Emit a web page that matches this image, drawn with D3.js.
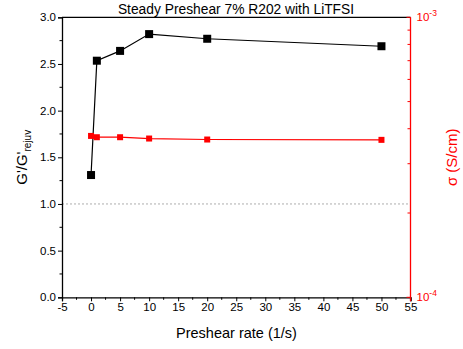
<!DOCTYPE html>
<html>
<head>
<meta charset="utf-8">
<script src="https://cdn.jsdelivr.net/npm/d3@7"></script>
<style>
  html, body { margin: 0; padding: 0; background: #fff; }
  svg { display: block; font-family: "Liberation Sans", Arial, sans-serif; }
</style>
</head>
<body>
<svg id="chart" width="463" height="349"></svg>
<script>
// Preshear rates (1/s)
const rates = [0, 1, 5, 10, 20, 50];
// Storage modulus ratio G'/G'rejuv
const modulusRatio = [1.31, 2.535, 2.64, 2.82, 2.77, 2.69];
// Ionic conductivity (S/cm)
const conductivity = [3.77e-4, 3.73e-4, 3.73e-4, 3.69e-4, 3.66e-4, 3.65e-4];
// Axis ticks
const xTicks = [-5, 0, 5, 10, 15, 20, 25, 30, 35, 40, 45, 50, 55];
const yTicks = [0, 0.5, 1.0, 1.5, 2.0, 2.5, 3.0];
const titleText = "Steady Preshear 7% R202 with LiTFSI";

const svg = d3.select("#chart");
const pLeft = 62, pRight = 410.5, pTop = 17.3, pBottom = 297.3;
const red = "#ff0000";

const x = d3.scaleLinear().domain([-5, 55]).range([pLeft, pRight]);
const y = d3.scaleLinear().domain([0, 3]).range([pBottom, pTop]);
const y2 = d3.scaleLog().domain([1e-4, 1e-3]).range([pBottom, pTop]);

// Top frame line
svg.append("line").attr("x1", pLeft).attr("x2", pRight).attr("y1", pTop).attr("y2", pTop)
  .attr("stroke", "#000").attr("stroke-width", 1.2);

// Reference line at G'/G'rejuv = 1
svg.append("line").attr("x1", pLeft).attr("x2", pRight).attr("y1", y(1)).attr("y2", y(1))
  .attr("stroke", "#999").attr("stroke-width", 0.8).attr("stroke-dasharray", "2,2");

// Bottom axis
const xAxis = svg.append("g").attr("transform", `translate(0,${pBottom})`)
  .call(d3.axisBottom(x).tickValues(xTicks).tickFormat(d => String(d)).tickSize(4).tickPadding(2));
xAxis.append("g").selectAll("line")
  .data(d3.range(-2.5, 55, 5))
  .join("line").attr("x1", d => x(d)).attr("x2", d => x(d)).attr("y1", 0).attr("y2", 2.5)
  .attr("stroke", "#000");

// Left axis
const yAxis = svg.append("g").attr("transform", `translate(${pLeft},0)`)
  .call(d3.axisLeft(y).tickValues(yTicks).tickFormat(d => d.toFixed(1)).tickSize(4).tickPadding(2));
yAxis.append("g").selectAll("line")
  .data(d3.range(0.25, 3, 0.5))
  .join("line").attr("y1", d => y(d)).attr("y2", d => y(d)).attr("x1", 0).attr("x2", -2.5)
  .attr("stroke", "#000");

[xAxis, yAxis].forEach(g => {
  g.select(".domain").attr("stroke", "#000").attr("stroke-width", 1.3);
  g.selectAll(".tick line").attr("stroke", "#000").attr("stroke-width", 1);
  g.selectAll(".tick text").attr("fill", "#000").attr("font-size", 11.5)
    .attr("font-family", "'Liberation Sans', Arial, sans-serif");
});

// Right log axis (conductivity), ticks pointing inward
const rAxis = svg.append("g").attr("transform", `translate(${pRight},0)`);
rAxis.append("line").attr("x1", 0).attr("x2", 0).attr("y1", pTop).attr("y2", pBottom + 4)
  .attr("stroke", red).attr("stroke-width", 1.3);
const minorLog = d3.range(2, 10).map(k => k * 1e-4);
rAxis.selectAll("line.minor").data(minorLog).join("line").attr("class", "minor")
  .attr("y1", d => y2(d)).attr("y2", d => y2(d)).attr("x1", 0).attr("x2", -3)
  .attr("stroke", red);
rAxis.selectAll("line.major").data([1e-4, 1e-3]).join("line").attr("class", "major")
  .attr("y1", d => y2(d)).attr("y2", d => y2(d)).attr("x1", 0).attr("x2", -4)
  .attr("stroke", red);
const rLabels = rAxis.selectAll("text.rl").data([1e-4, 1e-3]).join("text").attr("class", "rl")
  .attr("x", 6).attr("y", d => y2(d) + 4).attr("fill", red).attr("font-size", 11.5);
rLabels.append("tspan").text("10");
rLabels.append("tspan").attr("dy", -5).attr("font-size", 8.5)
  .text(d => "-" + Math.round(-Math.log10(d)));

// Data lines and markers
const lineG = d3.line().x((d, i) => x(rates[i])).y(d => y(d));
const lineS = d3.line().x((d, i) => x(rates[i])).y(d => y2(d));

svg.append("path").datum(conductivity).attr("d", lineS)
  .attr("fill", "none").attr("stroke", red).attr("stroke-width", 1.2);
svg.append("path").datum(modulusRatio).attr("d", lineG)
  .attr("fill", "none").attr("stroke", "#000").attr("stroke-width", 1.2);

const ms = 7;
svg.selectAll("rect.s").data(conductivity).join("rect").attr("class", "s")
  .attr("x", (d, i) => x(rates[i]) - ms / 2 + 0.5).attr("y", d => y2(d) - ms / 2 + 0.5)
  .attr("width", ms - 1).attr("height", ms - 1).attr("fill", red);
svg.selectAll("rect.g").data(modulusRatio).join("rect").attr("class", "g")
  .attr("x", (d, i) => x(rates[i]) - ms / 2 - 0.5).attr("y", d => y(d) - ms / 2 - 0.5)
  .attr("width", ms + 1).attr("height", ms + 1).attr("fill", "#000");

// Titles
svg.append("text").attr("x", 236).attr("y", 14).attr("text-anchor", "middle")
  .attr("font-size", 13.8).attr("fill", "#000").text(titleText);

svg.append("text").attr("x", 236.5).attr("y", 338).attr("text-anchor", "middle")
  .attr("font-size", 14.5).attr("fill", "#000").text("Preshear rate (1/s)");

const yl = svg.append("text").attr("transform", `translate(27,${(pTop + pBottom) / 2}) rotate(-90)`)
  .attr("text-anchor", "middle").attr("font-size", 15).attr("fill", "#000");
yl.append("tspan").text("G'/G'");
yl.append("tspan").attr("dy", 4).attr("font-size", 10).text("rejuv");

svg.append("text").attr("transform", `translate(457,${(pTop + pBottom) / 2}) rotate(-90)`)
  .attr("text-anchor", "middle").attr("font-size", 15).attr("fill", red).text("σ (S/cm)");
</script>
</body>
</html>
